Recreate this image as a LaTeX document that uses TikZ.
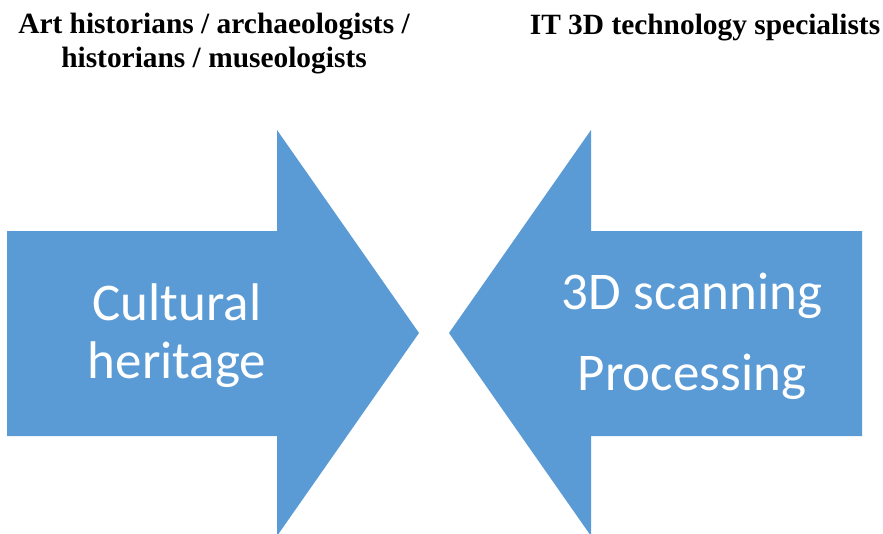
\documentclass[tikz,border=0pt]{standalone}
\usepackage{fontspec}
\setmainfont{Liberation Serif}
\newfontfamily\arrowfont{Carlito}
\usetikzlibrary{positioning}
\definecolor{arrowblue}{HTML}{5B9BD5}

\begin{document}
\begin{tikzpicture}[x=1pt,y=-1pt,
  group/.style={font=\fontsize{29.4}{34}\selectfont\bfseries, align=center, inner sep=0pt},
  inside/.style={text=white, align=center, inner sep=0pt}]
\useasboundingbox (0,0) rectangle (883,533);
\clip (0,0) rectangle (883,533);

\def\ya{231}
\def\yb{436}
\def\yc{130}
\def\yd{536}
\def\ym{333}

% arrow from the left
\def\xa{7}
\def\xb{277}
\def\xc{419}
\fill[arrowblue] (\xa,\ya) -- (\xb,\ya) -- (\xb,\yc) -- (\xc,\ym)
  -- (\xb,\yd) -- (\xb,\yb) -- (\xa,\yb) -- cycle;

% arrow from the right
\def\xd{862}
\def\xe{591}
\def\xf{449}
\fill[arrowblue] (\xd,\ya) -- (\xe,\ya) -- (\xe,\yc) -- (\xf,\ym)
  -- (\xe,\yd) -- (\xe,\yb) -- (\xd,\yb) -- cycle;

\node[inside, font=\arrowfont\fontsize{53}{58}\selectfont] (heritage) at (177,336)
  {Cultural\\heritage};
\node[inside, font=\arrowfont\fontsize{53}{81}\selectfont] (scanning) at (692,336.5)
  {3D scanning\\Processing};

\node[group] (humanities) at (214,43.4)
  {Art historians / archaeologists /\\historians / museologists};
\node[group, anchor=base] (technology) at (705,34) {IT 3D technology specialists};
\end{tikzpicture}
\end{document}
